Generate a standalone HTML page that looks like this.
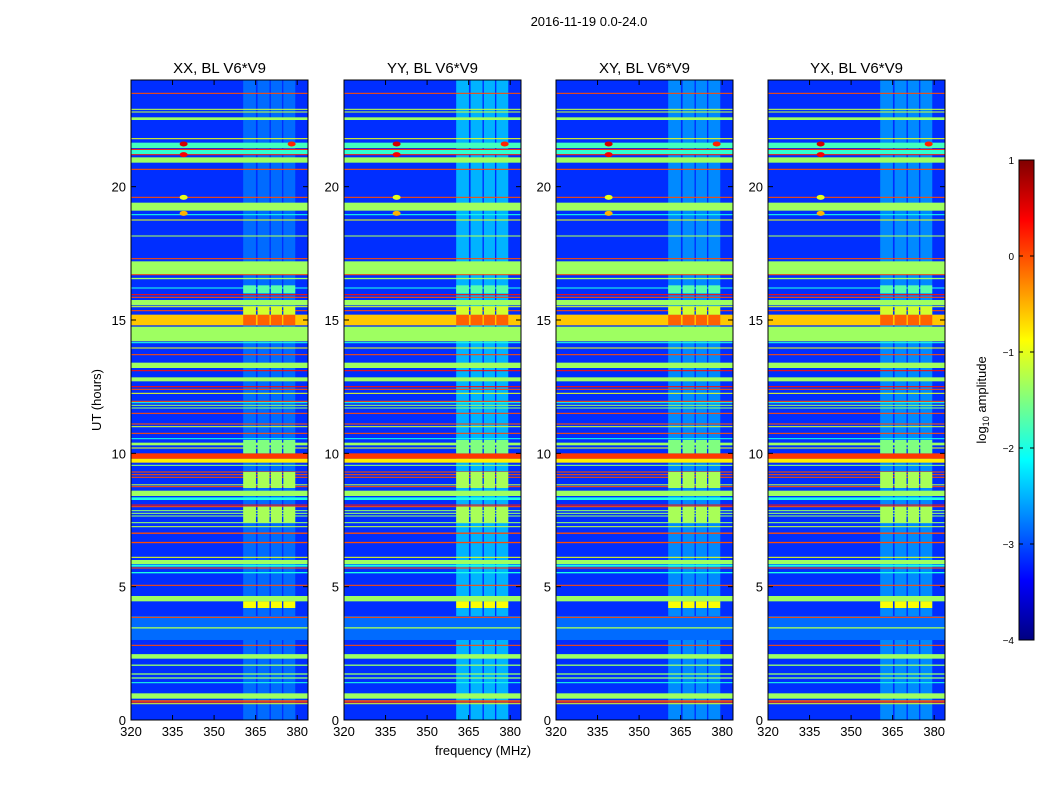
<!DOCTYPE html>
<html><head><meta charset="utf-8">
<style>
body{margin:0;background:#fff;font-family:"Liberation Sans",sans-serif;}
svg text{font-family:"Liberation Sans",sans-serif;}
</style></head>
<body>
<svg id="fig" width="1050" height="800" xmlns="http://www.w3.org/2000/svg">
<rect width="1050" height="800" fill="#fff"/>
<text x="589" y="26" font-size="13" text-anchor="middle">2016-11-19 0.0-24.0</text>
<text x="0" y="0" font-size="13" text-anchor="middle" transform="translate(101,400) rotate(-90)">UT (hours)</text>
<text x="483" y="755" font-size="13" text-anchor="middle">frequency (MHz)</text>
<g id="panels"></g>
<g id="cbar"></g>
</svg>
<script>
// ---- data ----
const panelTitles = ["XX, BL V6*V9","YY, BL V6*V9","XY, BL V6*V9","YX, BL V6*V9"];
const xTicks = [320,335,350,365,380];
const yTicks = [0,5,10,15,20];
const cbTicks = [1,0,-1,-2,-3,-4];
const cbTickLabels = ["1","0","\u22121","\u22122","\u22123","\u22124"];
const backgroundValue = -3.15;
const bandStart = [0.6,0.65,0.7,0.8,1.38,1.55,1.7,2.03,2.3,2.78,3.0,3.43,3.83,4.45,5.03,5.5,5.68,5.75,5.85,6.08,6.63,6.98,7.23,7.38,7.63,7.73,7.83,7.98,8.04,8.25,8.4,8.73,8.8,9.08,9.18,9.28,9.53,9.65,9.8,10.18,10.3,10.53,10.73,10.98,11.08,11.48,11.68,11.78,11.88,11.93,12.23,12.38,12.48,12.7,13.08,13.2,13.68,13.93,14.13,14.2,14.8,15.33,15.48,15.55,15.83,15.93,16.18,16.53,16.68,16.72,17.28,18.13,18.73,18.93,19.1,19.58,20.63,20.9,21.18,21.22,21.38,21.45,21.78,22.5,22.78,22.88,23.48];
const bandEnd   = [0.63,0.7,0.74,1.0,1.42,1.6,1.75,2.08,2.47,2.82,3.9,3.48,3.87,4.65,5.07,5.55,5.72,5.83,6.0,6.12,6.68,7.03,7.27,7.42,7.67,7.77,7.87,8.02,8.08,8.35,8.6,8.77,8.84,9.12,9.22,9.32,9.57,9.8,10.0,10.22,10.4,10.57,10.77,11.02,11.12,11.52,11.72,11.82,11.92,11.97,12.27,12.42,12.52,12.85,13.12,13.4,13.72,13.97,14.17,14.75,15.2,15.37,15.52,15.75,15.87,15.97,16.22,16.58,16.72,17.2,17.32,18.17,18.77,18.97,19.4,19.62,20.67,21.1,21.22,21.4,21.42,21.65,21.82,22.6,22.82,22.92,23.52];
const bandValue = [-1.0,0.2,-0.1,-1.35,-2,-1.4,-1.4,-1.4,-1.35,0,-2.85,-1.3,0,-1.35,0,-2,0,-2,-1.35,-1,0,0,-1.2,-1.4,-1.4,-1.4,-1.4,0,0.3,-2,-1.35,0,-1.2,0,0,0,-1.4,-0.8,0.1,-1,-1.35,-2,0,-1.1,0,0,-1.4,-1.4,-2,0,-1,0,0.3,-1.35,0.3,-1.35,0,-1,-2,-1.35,-0.6,0,-1.1,-1.35,0,0.3,-2,-1.35,0,-1.35,0,-1.3,-1.0,-2,-1.35,0,0,-1.35,0.3,-1.9,0.3,-1.8,-1.0,-1.35,-1.2,-1.2,0];
const colFreqStart = [360.5,365.7,370.5,375.0];
const colFreqEnd   = [365.1,370.0,374.5,379.3];
const colBaseValue = [-2.85,-2.5,-2.7,-2.7];   // per panel
const segStart = [4.2,7.4,8.7,10.0,14.8,15.2,16.0];
const segEnd   = [4.45,8.0,9.3,10.5,15.2,15.5,16.3];
const segValue = [-0.9,-1.3,-1.3,-1.5,-0.1,-1.1,-1.7];
const spikeFreq = [339,339,339,339,378];
const spikeHour = [21.6,21.2,19.0,19.6,21.6];
const spikeValue = [0.6,0.4,-0.5,-1.0,0.2];

// ---- helpers ----
function jet(v){
  const t=Math.max(0,Math.min(1,(v+4)/5));
  const c=x=>Math.round(255*Math.max(0,Math.min(1,x)));
  return `rgb(${c(1.5-Math.abs(4*t-3))},${c(1.5-Math.abs(4*t-2))},${c(1.5-Math.abs(4*t-1))})`;
}
const NS="http://www.w3.org/2000/svg";
function mk(tag,attrs,parent){const e=document.createElementNS(NS,tag);for(const k in attrs)e.setAttribute(k,attrs[k]);parent.appendChild(e);return e;}
const panelX=[131,344,556,768], PW=177, TOP=80, BOT=720;
const fMin=320, fMax=383.9, hMin=0, hMax=24;
const panelsG=document.getElementById('panels');

panelX.forEach((px,p)=>{
  const xs=f=>px+(f-fMin)/(fMax-fMin)*PW;
  const ys=h=>BOT-(h-hMin)/(hMax-hMin)*(BOT-TOP);
  const g=mk('g',{},panelsG);
  
  
  const bg=mk('rect',{x:px,y:TOP,width:PW,height:BOT-TOP,fill:jet(backgroundValue)},g);
  
  
  colFreqStart.forEach((fs,i)=>{
    const r=mk('rect',{x:xs(fs),y:TOP,width:xs(colFreqEnd[i])-xs(fs),height:BOT-TOP,fill:jet(colBaseValue[p])},g);
    
    
  });
  bandStart.forEach((s,i)=>{
    const y1=ys(bandEnd[i]), y2=ys(s);
    const r=mk('rect',{x:px,y:y1,width:PW,height:Math.max(1,y2-y1),fill:jet(bandValue[i])},g);
    
    
  });
  segStart.forEach((s,i)=>{
    colFreqStart.forEach((fs,j)=>{
      const y1=ys(segEnd[i]), y2=ys(s);
      const r=mk('rect',{x:xs(fs),y:y1,width:xs(colFreqEnd[j])-xs(fs),height:y2-y1,fill:jet(segValue[i])},g);
      
      
    });
  });
  spikeFreq.forEach((f,i)=>{
    const e=mk('ellipse',{cx:xs(f),cy:ys(spikeHour[i]),rx:4,ry:2.5,fill:jet(spikeValue[i])},g);
    
    
  });
  const fr=mk('rect',{x:px,y:TOP,width:PW,height:BOT-TOP,fill:'none',stroke:'#000','stroke-width':1},g);
  
  
  const t=mk('text',{x:px+PW/2,y:73,'font-size':15,'text-anchor':'middle'},g);
  t.textContent=panelTitles[p];
  
  
  xTicks.forEach(v=>{
    const x=xs(v);
    mk('line',{x1:x,y1:BOT,x2:x,y2:BOT-5,stroke:'#000'},g);
    mk('line',{x1:x,y1:TOP,x2:x,y2:TOP+5,stroke:'#000'},g);
    const l=mk('text',{x:x,y:BOT+16,'font-size':13,'text-anchor':'middle'},g);
    l.textContent=v;
    
    
  });
  yTicks.forEach(v=>{
    const y=ys(v);
    mk('line',{x1:px,y1:y,x2:px+5,y2:y,stroke:'#000'},g);
    mk('line',{x1:px+PW,y1:y,x2:px+PW-5,y2:y,stroke:'#000'},g);
    const l=mk('text',{x:px-5,y:y+5,'font-size':13,'text-anchor':'end'},g);
    l.textContent=v;
    
    
  });
});

// colorbar
const cb=document.getElementById('cbar');
const CX=1019,CW=15,CT=160,CB=640;
const cy=v=>CB-(v+4)/5*(CB-CT);
const defs=mk('defs',{},cb);
const grad=mk('linearGradient',{id:'jetg',x1:0,y1:1,x2:0,y2:0},defs);
for(let i=0;i<=40;i++){mk('stop',{offset:i/40,'stop-color':jet(-4+5*i/40)},grad);}
const cbr=mk('rect',{x:CX,y:CT,width:CW,height:CB-CT,fill:'url(#jetg)',stroke:'#000'},cb);


cbTicks.forEach((v,i)=>{
  const y=cy(v);
  mk('line',{x1:CX,y1:y,x2:CX+4,y2:y,stroke:'#000'},cb);
  mk('line',{x1:CX+CW,y1:y,x2:CX+CW-4,y2:y,stroke:'#000'},cb);
  const l=mk('text',{x:CX-5,y:y+4,'font-size':10,'text-anchor':'end'},cb);
  l.textContent=cbTickLabels[i];
  
  
});
const cl=mk('text',{'font-size':13,'text-anchor':'middle',transform:'translate(986,400) rotate(-90)'},cb);
cl.innerHTML='log<tspan font-size="9" dy="3">10</tspan><tspan dy="-3"> amplitude</tspan>';


</script>
</body></html>
